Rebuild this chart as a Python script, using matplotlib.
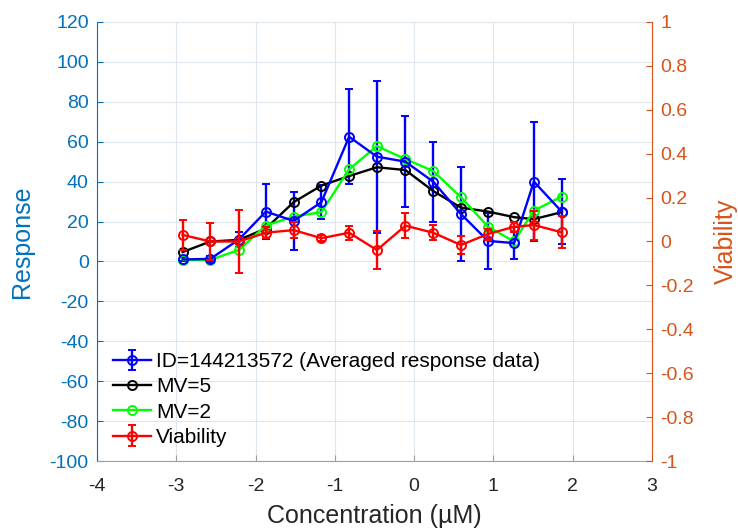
import numpy as np
import matplotlib
matplotlib.use('Agg')
import matplotlib.pyplot as plt

# ---- data ----
conc = [-2.92, -2.57, -2.21, -1.87, -1.52, -1.17, -0.82, -0.47,
        -0.11, 0.24, 0.59, 0.93, 1.26, 1.51, 1.86]

resp = [1.0, 1.3, 11.0, 25.0, 20.3, 29.7, 62.5, 52.5,
        50.0, 40.0, 23.8, 10.3, 9.2, 40.0, 25.0]
resp_err = [1.0, 1.5, 4.0, 13.8, 14.6, 8.5, 23.7, 38.0,
            22.8, 20.0, 23.7, 14.0, 8.0, 29.8, 16.5]

mv5 = [4.7, 10.0, 10.8, 16.5, 29.7, 38.0, 42.8, 47.2,
       45.8, 35.3, 27.0, 25.0, 22.2, 21.2, 24.7]
mv2 = [0.8, 0.8, 5.8, 18.0, 22.5, 24.7, 46.2, 57.8,
       51.3, 45.3, 32.2, 17.5, 10.0, 25.5, 32.5]

viab = [0.030, 0.0, 0.0, 0.040, 0.052, 0.015, 0.040, -0.039,
        0.072, 0.040, -0.016, 0.034, 0.067, 0.075, 0.042]
viab_err = [0.070, 0.086, 0.145, 0.025, 0.036, 0.015, 0.032, 0.085,
            0.056, 0.035, 0.042, 0.025, 0.022, 0.066, 0.072]

left_ticks = [-100, -80, -60, -40, -20, 0, 20, 40, 60, 80, 100, 120]
right_ticks = [-1, -0.8, -0.6, -0.4, -0.2, 0, 0.2, 0.4, 0.6, 0.8, 1]
x_ticks = [-4, -3, -2, -1, 0, 1, 2, 3]

# ---- style ----
plt.rcParams['font.family'] = ['Liberation Sans', 'DejaVu Sans']
plt.rcParams['axes.unicode_minus'] = False
c_left = '#0072BD'
c_right = '#D95319'
c_x = '#262626'

fig = plt.figure(figsize=(7.38, 5.31), dpi=100)
ax = fig.add_axes([0.1314, 0.1318, 0.7521, 0.8268])
ax2 = ax.twinx()

lw = 1.7
ms = 6.5
cs = 3.2

h1 = ax.errorbar(conc, resp, yerr=resp_err, color='blue', lw=lw, marker='o',
                 ms=ms, mfc='none', mew=1.4, capsize=cs, capthick=lw, elinewidth=lw,
                 label='ID=144213572 (Averaged response data)')
h2, = ax.plot(conc, mv5, color='black', lw=lw, marker='o', ms=ms, mfc='none',
              mew=1.4, label='MV=5')
h3, = ax.plot(conc, mv2, color='#00ff00', lw=lw, marker='o', ms=ms, mfc='none',
              mew=1.4, label='MV=2')
h4 = ax2.errorbar(conc, viab, yerr=viab_err, color='red', lw=lw, marker='o',
                  ms=ms, mfc='none', mew=1.4, capsize=cs, capthick=lw, elinewidth=lw,
                  label='Viability')

ax.set_xlim(-4, 3)
ax.set_ylim(-100, 120)
ax2.set_ylim(-1, 1)
ax.set_xticks(x_ticks)
ax.set_yticks(left_ticks)
ax2.set_yticks(right_ticks)
ax2.set_yticklabels(['%g' % v for v in right_ticks])

ax.grid(True, color='#dfe5ec', lw=0.8)
ax.set_axisbelow(True)

ax.spines['top'].set_visible(False)
ax2.spines['top'].set_visible(False)
ax.spines['right'].set_visible(False)
ax2.spines['left'].set_visible(False)
ax2.spines['bottom'].set_visible(False)
ax.spines['left'].set_color(c_left)
ax2.spines['right'].set_color(c_right)
ax.spines['bottom'].set_color('#a0a0a0')
for s in ['left', 'bottom']:
    ax.spines[s].set_linewidth(0.8)
ax2.spines['right'].set_linewidth(0.8)

ax.tick_params(axis='y', direction='in', colors=c_left, labelsize=14, length=4, pad=6)
ax.tick_params(axis='x', direction='in', colors='#a0a0a0', labelcolor=c_x,
               labelsize=14, length=4, pad=12)
ax2.tick_params(axis='y', direction='in', colors=c_right, labelsize=14, length=4, pad=6)

ax.set_xlabel('Concentration (µM)', fontsize=18, color=c_x, labelpad=7)
ax.set_ylabel('Response', fontsize=18, color=c_left, labelpad=11)
ax2.set_ylabel('Viability', fontsize=18, color=c_right, labelpad=14)

ax2.legend([h1, h2, h3, h4], [h1.get_label(), h2.get_label(), h3.get_label(), h4.get_label()],
           loc='lower left', bbox_to_anchor=(0.029, 0.032), frameon=False,
           fontsize=15, handlelength=1.83, handletextpad=0.25, labelspacing=0.3,
           borderpad=0, borderaxespad=0)

plt.savefig('out.png', dpi=100)
plt.close()
